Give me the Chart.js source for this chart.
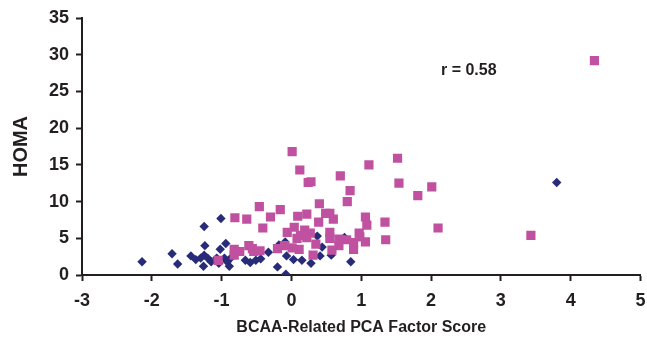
<!DOCTYPE html>
<html>
<head>
<meta charset="utf-8">
<script src="https://cdn.jsdelivr.net/npm/chart.js@4.4.0/dist/chart.umd.min.js"></script>
<style>
    html, body { margin: 0; padding: 0; background: #fff; }
    #wrap { width: 647px; height: 344px; }
</style>
</head>
<body>
<div id="wrap"><canvas id="scatterChart" width="647" height="344"></canvas></div>
<script>
// axis ticks
const xTicks = [-3, -2, -1, 0, 1, 2, 3, 4, 5];
const yTicks = [0, 5, 10, 15, 20, 25, 30, 35];

// blue diamonds
const blueX = [-2.14, -1.71, -1.63, -1.44, -1.37, -1.25, -1.01, -1.24, -1.25, -1.20, -1.30, -1.15, -1.26,
    -0.94, -1.02, -1.07, -0.89, -0.96, -0.92, -1.04, -0.87, -0.66, -0.59, -0.51, -0.44, -0.33, -0.20,
    -0.18, -0.09, -0.08, -0.07, 0.03, 0.15, 0.28, 0.37, 0.44, 0.41, 0.57, 0.76, 0.85, 3.80];
const blueY = [1.8, 2.9, 1.5, 2.6, 2.1, 6.6, 7.7, 4.0, 2.7, 2.3, 2.3, 1.8, 1.2,
    4.3, 3.5, 2.3, 1.2, 2.3, 1.8, 1.6, 2.3, 2.0, 1.7, 2.0, 2.2, 3.1, 1.1,
    4.1, 4.5, 0.1, 2.6, 2.1, 2.0, 1.6, 5.3, 3.8, 2.6, 2.7, 5.1, 1.8, 12.6];

// pink squares
const pinkX = [0.01, 0.12, 0.24, 0.28, 0.70, 1.11, 1.52, 1.54, 2.01, 1.81, 0.84, 0.80, 0.40,
    -0.46, -0.16, -0.30, -0.81, -0.64, -0.41, 0.09, 0.22, 0.39, 0.49, 0.55, 0.60, 1.06, 1.08,
    1.34, 2.10, 3.43, 4.34, 1.35, 1.06, -0.06, 0.04, 0.19, 0.27, 0.08, 0.13, 0.22, 0.55, 0.55,
    0.68, 0.79, 0.89, 0.97, 0.98, 0.89, 0.68, 0.58, 0.35, 0.31, 0.11, 0.01, -0.10, -0.20,
    -0.45, -0.54, -0.61, -0.56, -0.74, -0.82, -0.82, -1.05];
const pinkY = [16.8, 14.3, 12.6, 12.7, 13.5, 15.0, 15.9, 12.5, 12.0, 10.8, 11.5, 10.0, 9.7,
    9.3, 8.9, 7.9, 7.8, 7.6, 6.4, 8.0, 8.3, 7.2, 8.4, 8.4, 7.6, 7.9, 6.8,
    7.2, 6.4, 5.4, 29.2, 4.8, 4.5, 5.8, 6.5, 6.1, 5.7, 5.0, 5.4, 5.1, 5.8, 5.0,
    4.9, 4.8, 4.4, 5.7, 5.2, 3.5, 4.0, 3.4, 4.2, 2.7, 3.5, 3.7, 4.0, 3.6,
    3.3, 3.2, 4.0, 3.6, 3.2, 3.5, 2.7, 2.0];

const noteText = 'r = 0.58';
const noteX = 2.54;
const noteY = 27.8;

const inkColor = '#231f20';
const fontFamily = '"Liberation Sans", Arial, sans-serif';

function toPoints(xs, ys) {
    return xs.map((x, i) => ({ x: x, y: ys[i] }));
}

// tulisan r = 0.58 di dalam area grafik
const notePlugin = {
    id: 'note',
    afterDatasetsDraw(chart) {
        const ctx = chart.ctx;
        const px = chart.scales.x.getPixelForValue(noteX);
        const py = chart.scales.y.getPixelForValue(noteY);
        ctx.save();
        ctx.font = 'bold 16px ' + fontFamily;
        ctx.fillStyle = inkColor;
        ctx.textAlign = 'center';
        ctx.textBaseline = 'middle';
        ctx.fillText(noteText, px, py);
        ctx.restore();
    }
};

const ctx = document.getElementById('scatterChart').getContext('2d');

new Chart(ctx, {
    type: 'scatter',
    data: {
        datasets: [{
            label: 'pink',
            data: toPoints(pinkX, pinkY),
            pointStyle: 'rect',
            pointRadius: 6.5,
            pointHoverRadius: 6.5,
            backgroundColor: '#c050a0',
            borderColor: '#c050a0',
            borderWidth: 0
        }, {
            label: 'blue',
            data: toPoints(blueX, blueY),
            pointStyle: 'rectRot',
            pointRadius: 4.7,
            pointHoverRadius: 4.7,
            backgroundColor: '#272b78',
            borderColor: '#272b78',
            borderWidth: 0
        }]
    },
    options: {
        responsive: false,
        animation: false,
        layout: {
            padding: { left: 0, right: 0, top: 18, bottom: 0 }
        },
        plugins: {
            legend: { display: false },
            tooltip: { enabled: false }
        },
        scales: {
            x: {
                type: 'linear',
                min: -3,
                max: 5,
                afterBuildTicks: scale => { scale.ticks = xTicks.map(v => ({ value: v })); },
                afterFit: scale => {
                    scale.height = 69;
                    scale.paddingLeft = 0;
                    scale.paddingRight = 3;
                },
                border: { color: inkColor, width: 2 },
                grid: { drawOnChartArea: false, tickLength: 6, color: inkColor, tickWidth: 2 },
                ticks: {
                    color: inkColor,
                    padding: 9,
                    font: { family: fontFamily, size: 18, weight: 'bold' }
                },
                title: {
                    display: true,
                    text: 'BCAA-Related PCA Factor Score',
                    color: inkColor,
                    padding: { top: 0, bottom: 7 },
                    font: { family: fontFamily, size: 16, weight: 'bold' }
                }
            },
            y: {
                type: 'linear',
                min: 0,
                max: 35,
                afterBuildTicks: scale => { scale.ticks = yTicks.map(v => ({ value: v })); },
                afterFit: scale => { scale.width = 82; },
                border: { color: inkColor, width: 2 },
                grid: { drawOnChartArea: false, tickLength: 6, color: inkColor, tickWidth: 2 },
                ticks: {
                    color: inkColor,
                    padding: 7,
                    font: { family: fontFamily, size: 18, weight: 'bold' }
                },
                title: {
                    display: true,
                    text: 'HOMA',
                    color: inkColor,
                    padding: 9,
                    font: { family: fontFamily, size: 20, weight: 'bold' }
                }
            }
        }
    },
    plugins: [notePlugin]
});
</script>
</body>
</html>
